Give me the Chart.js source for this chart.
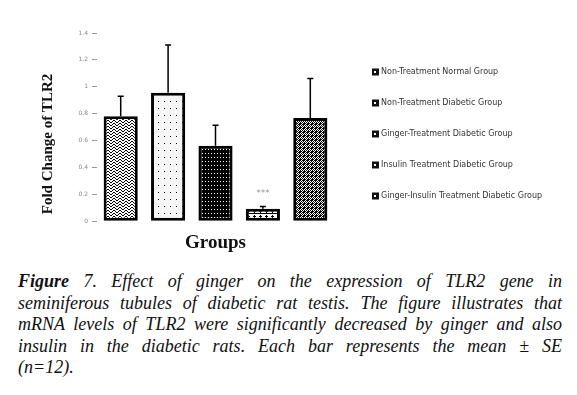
<!DOCTYPE html>
<html>
<head>
<meta charset="utf-8">
<script src="https://cdn.jsdelivr.net/npm/chart.js@4.4.0/dist/chart.umd.min.js"></script>
<style>
    html, body { margin: 0; padding: 0; background: #fff; }
    #wrap { position: relative; width: 577px; height: 395px; overflow: hidden; }
    #chartBox { position: absolute; left: 0; top: 0; width: 577px; height: 260px; }
    #caption {
        position: absolute; left: 18px; top: 271px; width: 544px;
        font-family: "Liberation Serif", "Times New Roman", serif;
        font-style: italic; font-size: 18px; line-height: 21.5px; color: #111;
    }
    #caption .ln { text-align: justify; text-align-last: justify; white-space: nowrap; }
    #caption .ln.last { text-align-last: left; }
    #caption b { font-weight: bold; }
</style>
</head>
<body>
<div id="wrap">
    <div id="chartBox"><canvas id="tlr2Chart"></canvas></div>
    <div id="caption">
        <div class="ln"><b>Figure</b> 7. Effect of ginger on the expression of TLR2 gene in</div>
        <div class="ln">seminiferous tubules of diabetic rat testis. The figure illustrates that</div>
        <div class="ln">mRNA levels of TLR2 were significantly decreased by ginger and also</div>
        <div class="ln">insulin in the diabetic rats. Each bar represents the mean ± SE</div>
        <div class="ln last">(n=12).</div>
    </div>
</div>
<script>
const groups = [
    'Non-Treatment Normal Group',
    'Non-Treatment Diabetic Group',
    'Ginger-Treatment Diabetic Group',
    'Insulin Treatment Diabetic Group',
    'Ginger-Insulin Treatment Diabetic Group'
];
const foldChange = [0.78, 0.955, 0.562, 0.093, 0.768];
const stdError = [0.15, 0.355, 0.151, 0.017, 0.294];
const significance = ['', '', '', '***', ''];
const yTicks = [0, 0.2, 0.4, 0.6, 0.8, 1, 1.2, 1.4];

function makePattern(w, h, draw) {
    const c = document.createElement('canvas');
    c.width = w;
    c.height = h;
    const g = c.getContext('2d');
    draw(g);
    return g.createPattern(c, 'repeat');
}

const patterns = [
    // zigzag waves
    makePattern(6, 3, function (g) {
        g.fillStyle = '#fff'; g.fillRect(0, 0, 6, 3);
        g.fillStyle = '#000';
        g.fillRect(0, 0, 1, 1); g.fillRect(1, 1, 1, 1); g.fillRect(2, 2, 2, 1);
        g.fillRect(4, 1, 1, 1); g.fillRect(5, 0, 1, 1);
    }),
    // sparse dots
    makePattern(6, 7, function (g) {
        g.fillStyle = '#f6f6f6'; g.fillRect(0, 0, 6, 7);
        g.fillStyle = '#000'; g.fillRect(2, 3, 1, 1);
    }),
    // black with white dots
    makePattern(3, 4, function (g) {
        g.fillStyle = '#000'; g.fillRect(0, 0, 3, 4);
        g.fillStyle = '#fff'; g.fillRect(1, 1, 1, 1);
    }),
    // crosses
    makePattern(6, 5, function (g) {
        g.fillStyle = '#fff'; g.fillRect(0, 0, 6, 5);
        g.fillStyle = '#000';
        g.fillRect(2, 0, 1, 3); g.fillRect(1, 1, 3, 1);
        g.fillRect(0, 3, 6, 1);
    }),
    // checker mesh
    makePattern(4, 4, function (g) {
        g.fillStyle = '#000'; g.fillRect(0, 0, 4, 4);
        g.fillStyle = '#fff';
        g.fillRect(1, 0, 1, 1); g.fillRect(0, 1, 1, 1); g.fillRect(2, 1, 1, 1);
        g.fillRect(3, 2, 1, 1); g.fillRect(1, 2, 1, 1); g.fillRect(2, 3, 1, 1);
    })
];

// error bars and significance marks
const errorBarPlugin = {
    id: 'errorBars',
    afterDatasetsDraw: function (chart) {
        const ctx = chart.ctx;
        const yScale = chart.scales.y;
        const meta = chart.getDatasetMeta(0);
        ctx.save();
        ctx.strokeStyle = '#000';
        ctx.lineWidth = 1.5;
        meta.data.forEach(function (bar, i) {
            const top = yScale.getPixelForValue(foldChange[i] + stdError[i]);
            ctx.beginPath();
            ctx.moveTo(bar.x, bar.y);
            ctx.lineTo(bar.x, top);
            ctx.moveTo(bar.x - 3, top);
            ctx.lineTo(bar.x + 3, top);
            ctx.stroke();
            if (significance[i]) {
                ctx.fillStyle = '#999';
                ctx.font = '9px "DejaVu Sans", sans-serif';
                ctx.textAlign = 'center';
                ctx.textBaseline = 'middle';
                ctx.fillText(significance[i], bar.x, top - 13);
            }
        });
        ctx.restore();
    }
};

// y title and legend, placed like the original figure
const sideTextPlugin = {
    id: 'sideText',
    afterDraw: function (chart) {
        const ctx = chart.ctx;
        ctx.save();
        ctx.translate(48, 144);
        ctx.rotate(-Math.PI / 2);
        ctx.fillStyle = '#111';
        ctx.font = 'bold 15px "Liberation Serif", "Times New Roman", serif';
        ctx.textAlign = 'center';
        ctx.textBaseline = 'middle';
        ctx.fillText('Fold Change of TLR2', 0, 0);
        ctx.restore();

        ctx.save();
        ctx.font = '8px "DejaVu Sans", sans-serif';
        ctx.textBaseline = 'middle';
        ctx.textAlign = 'left';
        chart.data.labels.forEach(function (text, i) {
            const y = 72 + i * 31;
            ctx.fillStyle = '#111';
            ctx.fillRect(372, y - 3.5, 7, 7);
            ctx.fillStyle = '#fff';
            ctx.fillRect(374, y - 1, 2, 2);
            ctx.fillStyle = '#333';
            ctx.fillText(text, 381, y);
        });
        ctx.restore();
    }
};

new Chart(document.getElementById('tlr2Chart'), {
    type: 'bar',
    data: {
        labels: groups,
        datasets: [{
            data: foldChange,
            backgroundColor: patterns,
            borderColor: '#000',
            borderWidth: 3,
            borderSkipped: false,
            categoryPercentage: 1,
            barPercentage: 0.72
        }]
    },
    options: {
        responsive: true,
        maintainAspectRatio: false,
        animation: false,
        layout: {
            padding: { left: 37, top: 33, right: 243, bottom: 6 }
        },
        plugins: {
            tooltip: { enabled: false },
            legend: { display: false }
        },
        scales: {
            x: {
                grid: { display: false },
                border: { display: false },
                ticks: { display: false },
                title: {
                    display: true,
                    text: 'Groups',
                    color: '#111',
                    padding: { top: 2, bottom: 0 },
                    font: { family: '"Liberation Serif", "Times New Roman", serif', size: 19, weight: 'bold' }
                }
            },
            y: {
                min: 0,
                max: 1.4,
                afterFit: function (scale) { scale.width = 60; },
                afterBuildTicks: function (scale) {
                    scale.ticks = yTicks.map(function (v) { return { value: v }; });
                },
                grid: { drawOnChartArea: false, drawTicks: true, tickLength: 5, color: '#999' },
                border: { display: false },
                ticks: {
                    padding: 4,
                    color: '#888',
                    font: { family: '"DejaVu Sans", sans-serif', size: 6 },
                    callback: function (v) { return String(v); }
                },
                title: { display: false }
            }
        }
    },
    plugins: [errorBarPlugin, sideTextPlugin]
});
</script>
</body>
</html>
